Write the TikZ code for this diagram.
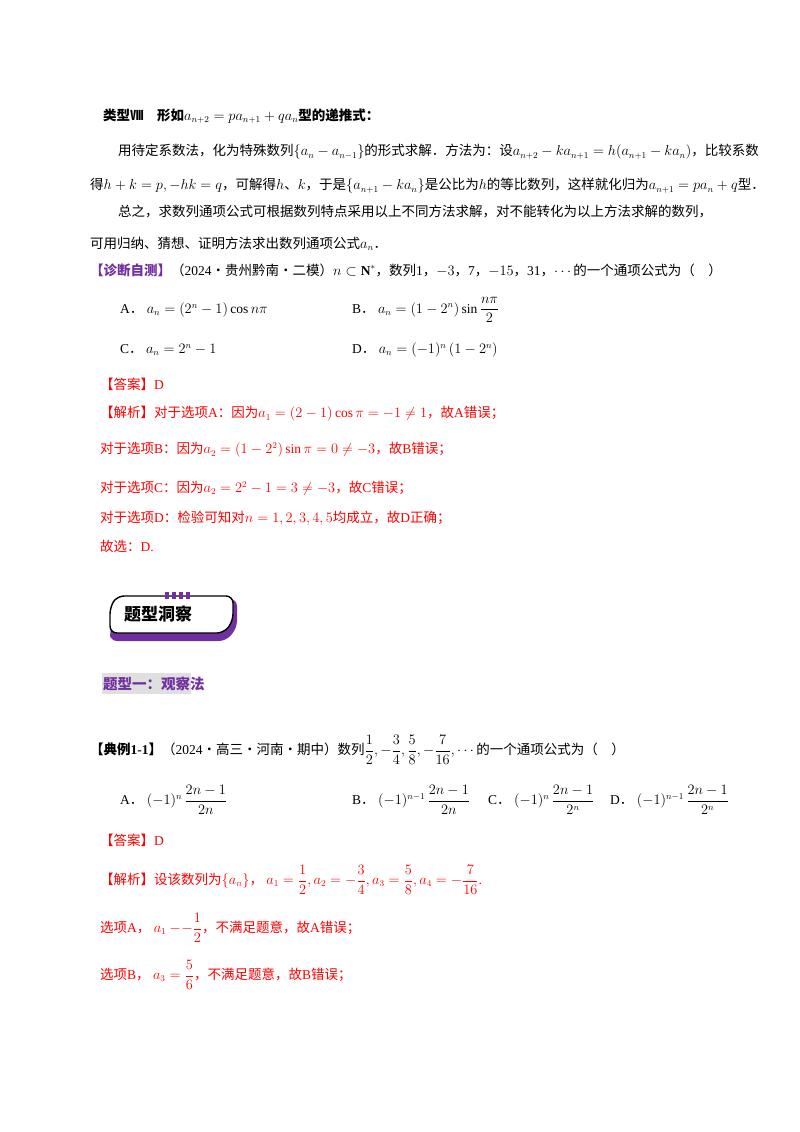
\documentclass[tikz,border=0pt]{standalone}
\usepackage{fontspec}
\usepackage{amsmath,amssymb}
\newfontfamily\cjk{Noto Sans CJK SC}
\setmainfont{Liberation Serif}
\definecolor{pur}{RGB}{112,48,160}
\definecolor{rd}{RGB}{255,0,0}
\newcommand{\dd}{{\cjk ．}}
\begin{document}
\begin{tikzpicture}[x=1pt,y=-1pt,
  t/.style={anchor=west,inner sep=0pt,font=\fontsize{13.5}{16}\selectfont},
  r/.style={t,text=rd}]
\useasboundingbox (0,0) rectangle (800,1132);
\fill[white] (0,0) rectangle (800,1132);
\node[t] (l1) at (103,116) {{\cjk\bfseries 类型Ⅷ\quad 形如}$a_{n+2}=pa_{n+1}+qa_n${\cjk\bfseries 型的递推式：}};
\node[t] (l2) at (118,152) {\cjk 用待定系数法，化为特殊数列{\rmfamily$\{a_n-a_{n-1}\}$}的形式求解．方法为：设{\rmfamily$a_{n+2}-ka_{n+1}=h(a_{n+1}-ka_n)$}，比较系数};
\node[t] (l3) at (90,186) {\cjk 得{\rmfamily$h+k=p,-hk=q$}，可解得{\rmfamily$h$}、{\rmfamily$k$}，于是{\rmfamily$\{a_{n+1}-ka_n\}$}是公比为{\rmfamily$h$}的等比数列，这样就化归为{\rmfamily$a_{n+1}=pa_n+q$}型．};
\node[t] (l4) at (118,212) {\cjk 总之，求数列通项公式可根据数列特点采用以上不同方法求解，对不能转化为以上方法求解的数列，};
\node[t] (l5) at (90,244) {\cjk 可用归纳、猜想、证明方法求出数列通项公式{\rmfamily$a_n$}．};
\node[t] (q1) at (90,270) {{\cjk\bfseries\color{pur}【诊断自测】}{\cjk（}2024{\cjk·贵州黔南·二模）}$n\subset\mathbf{N}^*${\cjk，数列}1{\cjk，}$-3${\cjk，}7{\cjk，}$-15${\cjk，}31{\cjk，}$\cdots${\cjk 的一个通项公式为（\quad ）}};
\node[t] (qa) at (120,310) {A\dd\ $a_n=\left(2^n-1\right)\cos n\pi$};
\node[t] (qb) at (352,310) {B\dd\ $a_n=\left(1-2^n\right)\sin\dfrac{n\pi}{2}$};
\node[t] (qc) at (120,350) {C\dd\ $a_n=2^n-1$};
\node[t] (qd) at (352,350) {D\dd\ $a_n=(-1)^n\left(1-2^n\right)$};
\node[r] (a1) at (100,384) {{\cjk【答案】}D};
\node[r] (e1) at (100,414) {{\cjk【解析】对于选项}A{\cjk：因为}$a_1=\left(2-1\right)\cos\pi=-1\neq1${\cjk，故}A{\cjk 错误；}};
\node[r] (e2) at (100,450) {{\cjk 对于选项}B{\cjk：因为}$a_2=\left(1-2^2\right)\sin\pi=0\neq-3${\cjk，故}B{\cjk 错误；}};
\node[r] (e3) at (100,488) {{\cjk 对于选项}C{\cjk：因为}$a_2=2^2-1=3\neq-3${\cjk，故}C{\cjk 错误；}};
\node[r] (e4) at (100,518) {{\cjk 对于选项}D{\cjk：检验可知对}$n=1,2,3,4,5${\cjk 均成立，故}D{\cjk 正确；}};
\node[r] (e5) at (100,546) {{\cjk 故选：}D.};
% box
\fill[pur,rounded corners=7pt] (116,602) -- (237,599) -- (237,628) -- (226,641) -- (110,641) -- (110,632) -- cycle;
\draw[line width=1.4pt,fill=white,rounded corners=7pt] (110,633) -- (110,607) -- (117,596) -- (233,596) -- (233,621) -- (224,633) -- cycle;
\foreach \i in {0,1,2,3}{\fill[pur] (165+\i*7,592) rectangle (169+\i*7,599);}
\node[t,font=\cjk\bfseries\fontsize{17}{18}\selectfont] (bx) at (124,614) {题型洞察};
\fill[gray!25] (102,673) rectangle (191,694);
\node[t,font=\cjk\bfseries\fontsize{14.5}{16}\selectfont,text=pur] (h1) at (103,684) {题型一：观察法};
\node[t] (q2) at (90,750) {{\cjk\bfseries【典例}\textbf{1-1}{\cjk\bfseries】}{\cjk（}2024{\cjk·高三·河南·期中）数列}$\dfrac12,-\dfrac34,\dfrac58,-\dfrac7{16},\cdots${\cjk 的一个通项公式为（\quad ）}};
\node[t] (pa) at (120,800) {A\dd\ $(-1)^n\,\dfrac{2n-1}{2n}$};
\node[t] (pb) at (352,800) {B\dd\ $(-1)^{n-1}\,\dfrac{2n-1}{2n}$};
\node[t] (pc) at (488,800) {C\dd\ $(-1)^n\,\dfrac{2n-1}{2^n}$};
\node[t] (pd) at (610,800) {D\dd\ $(-1)^{n-1}\,\dfrac{2n-1}{2^n}$};
\node[r] (a2) at (100,840) {{\cjk【答案】}D};
\node[r] (f1) at (100,880) {{\cjk【解析】设该数列为}$\{a_n\}${\cjk，}\ $a_1=\dfrac12,a_2=-\dfrac34,a_3=\dfrac58,a_4=-\dfrac7{16}$.};
\node[r] (f2) at (100,928) {{\cjk 选项}A{\cjk，}\ $a_1-\!-\dfrac12${\cjk，不满足题意，故}A{\cjk 错误；}};
\node[r] (f3) at (100,975) {{\cjk 选项}B{\cjk，}\ $a_3=\dfrac56${\cjk，不满足题意，故}B{\cjk 错误；}};
\end{tikzpicture}
\end{document}
